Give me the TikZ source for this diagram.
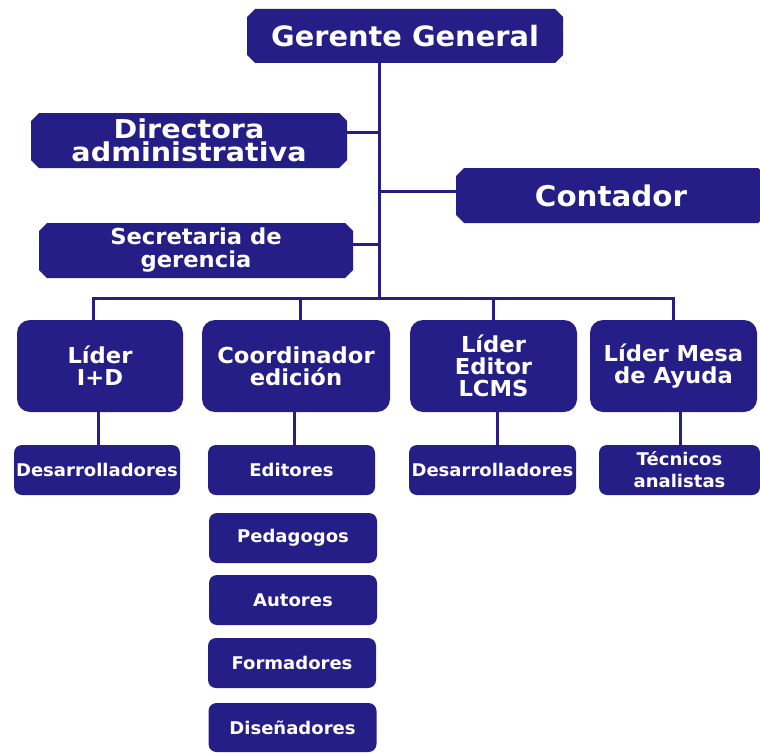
\documentclass[tikz,border=0pt]{standalone}
\usepackage{fontspec}
\setmainfont{DejaVu Sans}[FakeStretch=1.03]
\newfontfamily\widefont{DejaVu Sans}[FakeStretch=1.1]
\usetikzlibrary{shapes.misc}
\definecolor{navy}{RGB}{38,30,135}
\begin{document}
\begin{tikzpicture}[x=1pt,y=-1pt,
  base/.style={fill=navy,draw=none,text=white,align=center,inner sep=0pt,font=\bfseries},
  topbox/.style={base,chamfered rectangle,chamfered rectangle xsep=4pt,chamfered rectangle ysep=4pt},
  leadbox/.style={base,rectangle,rounded corners=13pt,minimum height=92pt,font=\bfseries\fontsize{22}{22}\selectfont},
  smallbox/.style={base,rectangle,rounded corners=8pt,minimum height=50pt,font=\bfseries\fontsize{17.5}{22}\selectfont},
  link/.style={draw=navy,line width=3pt}]
\clip (0,0) rectangle (760,752);
% top level
\node[topbox,minimum width=316pt,minimum height=54pt,font=\bfseries\fontsize{28}{28}\selectfont] (gg) at (405,36) {Gerente General};
\node[topbox,minimum width=316pt,minimum height=55pt,font=\widefont\bfseries\fontsize{26}{23.5}\selectfont] (dir) at (189,140.5) {Directora\\administrativa};
\node[topbox,minimum width=310pt,minimum height=55pt,font=\bfseries\fontsize{28.5}{28}\selectfont] (cont) at (611,195.5) {Contador};
\node[topbox,minimum width=314pt,minimum height=55pt,font=\bfseries\fontsize{22}{23}\selectfont] (sec) at (196,250.5) {Secretaria de\\gerencia};
% leaders
\node[leadbox,minimum width=166pt] (l1) at (100,366) {Líder\\I+D};
\node[leadbox,minimum width=188pt] (l2) at (296,366) {Coordinador\\edición};
\node[leadbox,minimum width=167pt] (l3) at (493.5,366) {Líder\\Editor\\LCMS};
\node[leadbox,minimum width=167pt] (l4) at (673.5,366) {Líder Mesa\\de Ayuda};
% staff
\node[smallbox,minimum width=166pt] (s1) at (97,470) {Desarrolladores};
\node[smallbox,minimum width=167pt] (s2) at (291.5,470) {Editores};
\node[smallbox,minimum width=167pt] (s3) at (492.5,470) {Desarrolladores};
\node[smallbox,minimum width=161pt] (s4) at (679.5,470) {Técnicos\\analistas};
\node[smallbox,minimum width=168pt] (p1) at (293,538) {Pedagogos};
\node[smallbox,minimum width=168pt] (p2) at (293,600) {Autores};
\node[smallbox,minimum width=168pt] (p3) at (292,663) {Formadores};
\node[smallbox,minimum width=168pt,minimum height=49pt] (p4) at (292.5,727.5) {Diseñadores};
% connectors
\coordinate (b1) at (93,298);
\coordinate (b2) at (300,298);
\coordinate (bc) at (379,298);
\coordinate (b3) at (493,298);
\coordinate (b4) at (673,298);
\draw[link] (gg.south -| bc) -- (bc);
\draw[link] ([yshift=8.5pt]dir.east) coordinate (dj) -- (dj -| bc);
\draw[link] ([yshift=4.5pt]cont.west) coordinate (cj) -- (cj -| bc);
\draw[link] ([yshift=6.5pt]sec.east) coordinate (sj) -- (sj -| bc);
\draw[link] (b1 |- l1.north) -- (b1) -- (b4) -- (b4 |- l4.north);
\draw[link] (b2) -- (b2 |- l2.north);
\draw[link] (b3) -- (b3 |- l3.north);
\draw[link] ([xshift=-2pt]l1.south) coordinate (d1) -- (d1 |- s1.north);
\draw[link] ([xshift=-2pt]l2.south) coordinate (d2) -- (d2 |- s2.north);
\draw[link] ([xshift=3.5pt]l3.south) coordinate (d3) -- (d3 |- s3.north);
\draw[link] ([xshift=6.5pt]l4.south) coordinate (d4) -- (d4 |- s4.north);
\end{tikzpicture}
\end{document}
